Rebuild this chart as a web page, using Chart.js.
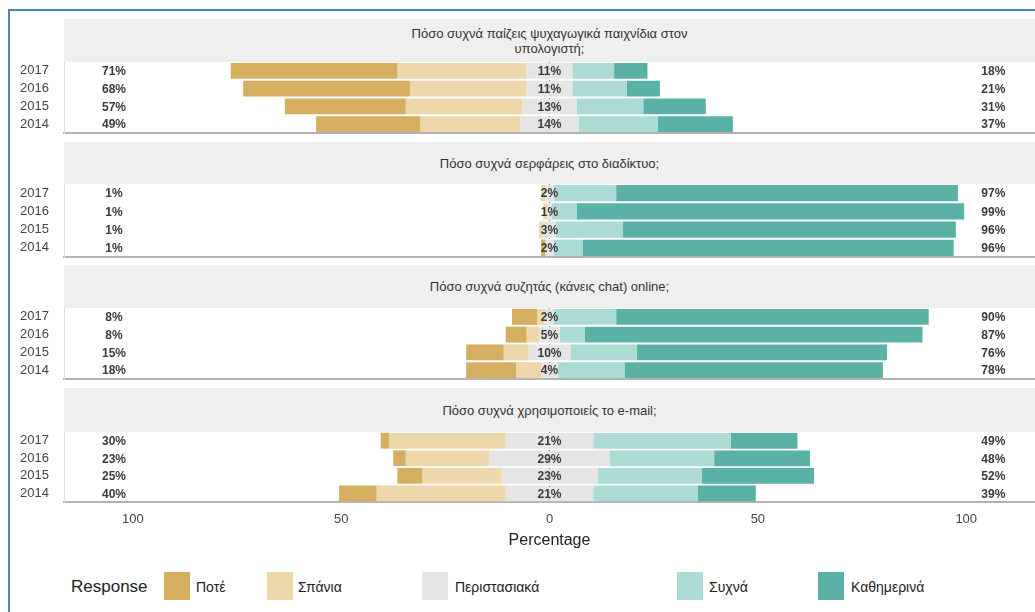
<!DOCTYPE html>
<html>
<head>
<meta charset="utf-8">
<script src="https://cdn.jsdelivr.net/npm/chart.js@4.4.1/dist/chart.umd.min.js"></script>
<style>
body{margin:0;background:#fff;font-family:"Liberation Sans",Arial,sans-serif;width:1035px;height:612px;overflow:hidden;position:relative}
#frame{position:absolute;left:8px;top:9px;width:1100px;height:700px;border-left:2px solid #4f81bd;border-top:2px solid #4f81bd}
.strip{position:absolute;left:64px;width:971px;background:#efefef;color:#333;font-size:13px;line-height:15px;display:flex;align-items:center;justify-content:center;text-align:center}
.panel{position:absolute;left:0;width:1035px}
#legend{position:absolute;top:572px;left:0;width:1035px;height:30px;font-size:14px;color:#222}
#legend span{position:absolute;top:7px}
#legend i{position:absolute;top:0;width:26px;height:28px}
</style>
</head>
<body>
<div id="frame"></div>
<div id="root"></div>
<div id="legend"><span style="left:71px;top:5px;font-size:17px">Response</span></div>
<script>
// rows: Ποτέ, Σπάνια, Περιστασιακά, Συχνά, Καθημερινά ; columns: years
const years = ['2017', '2016', '2015', '2014'];
const responses = ['Ποτέ', 'Σπάνια', 'Περιστασιακά', 'Συχνά', 'Καθημερινά'];
const colors = ['#d6ae5f', '#ecd8ab', '#e5e5e5', '#acdad4', '#5ab2a7'];

const questions = [
  'Πόσο συχνά παίζεις ψυχαγωγικά παιχνίδια στον<br>υπολογιστή;',
  'Πόσο συχνά σερφάρεις στο διαδίκτυο;',
  'Πόσο συχνά συζητάς (κάνεις chat) online;',
  'Πόσο συχνά χρησιμοποιείς το e-mail;'
];

const games = [
  [40, 40, 29, 25],
  [31, 28, 28, 24],
  [11, 11, 13, 14],
  [10, 13, 16, 19],
  [8, 8, 15, 18]
];
const surf = [
  [0, 0, 0, 1],
  [1, 1, 1, 0],
  [2, 1, 3, 2],
  [15, 6, 16, 7],
  [82, 93, 80, 89]
];
const chat = [
  [6, 5, 9, 12],
  [2, 3, 6, 6],
  [2, 5, 10, 4],
  [15, 6, 16, 16],
  [75, 81, 60, 62]
];
const email = [
  [2, 3, 6, 9],
  [28, 20, 19, 31],
  [21, 29, 23, 21],
  [33, 25, 25, 25],
  [16, 23, 27, 14]
];
const allData = [games, surf, chat, email];

// page layout (px)
const strips = [[19, 43], [142, 42], [265, 43], [388, 44]];
const panels = [[62, 71], [184, 73], [308, 71], [432, 70]];

const xMin = -116.5, xMax = 116.5;

function buildDatasets(q) {
  const ds = responses.map((r, k) => ({
    label: r, data: [], backgroundColor: colors[k],
    grouped: false, barPercentage: 0.9, categoryPercentage: 1, borderWidth: 0
  }));
  years.forEach((yr, i) => {
    const h = q[2][i] / 2;
    ds[2].data.push([-h, h]);
    ds[1].data.push([-h - q[1][i], -h]);
    ds[0].data.push([-h - q[1][i] - q[0][i], -h - q[1][i]]);
    ds[3].data.push([h, h + q[3][i]]);
    ds[4].data.push([h + q[3][i], h + q[3][i] + q[4][i]]);
  });
  return ds;
}

const pctLabels = {
  id: 'pctLabels',
  afterDatasetsDraw(chart, args, opts) {
    const {ctx, chartArea, scales: {x, y}} = chart;
    const q = opts.rows;
    ctx.save();
    const x0 = x.getPixelForValue(0);
    ctx.strokeStyle = '#888';
    ctx.lineWidth = 1;
    ctx.setLineDash([1, 5]);
    ctx.beginPath();
    ctx.moveTo(x0, chartArea.top);
    ctx.lineTo(x0, chartArea.bottom);
    ctx.stroke();
    ctx.setLineDash([]);
    ctx.font = 'bold 12px "Liberation Sans", Arial';
    ctx.fillStyle = '#3a3a3a';
    ctx.textAlign = 'center';
    ctx.textBaseline = 'middle';
    years.forEach((yr, i) => {
      const yy = y.getPixelForValue(i) + 1;
      ctx.fillText((q[0][i] + q[1][i]) + '%', x.getPixelForValue(-104.5), yy);
      ctx.fillText(q[2][i] + '%', x0, yy);
      ctx.fillText((q[3][i] + q[4][i]) + '%', x.getPixelForValue(106.5), yy);
    });
    ctx.restore();
  }
};

const root = document.getElementById('root');
allData.forEach((q, p) => {
  const last = p === allData.length - 1;
  const st = document.createElement('div');
  st.className = 'strip';
  st.style.top = strips[p][0] + 'px';
  st.style.height = strips[p][1] + 'px';
  st.innerHTML = questions[p];
  root.appendChild(st);

  const axisH = last ? 48 : 2;
  const box = document.createElement('div');
  box.className = 'panel';
  box.style.top = panels[p][0] + 'px';
  box.style.height = (panels[p][1] + axisH) + 'px';
  const cv = document.createElement('canvas');
  box.appendChild(cv);
  root.appendChild(box);

  new Chart(cv, {
    type: 'bar',
    data: {labels: years, datasets: buildDatasets(q)},
    options: {
      indexAxis: 'y',
      responsive: true,
      maintainAspectRatio: false,
      animation: false,
      layout: {padding: 0},
      plugins: {
        legend: {display: false},
        tooltip: {enabled: false},
        pctLabels: {rows: q}
      },
      scales: {
        x: {
          min: xMin, max: xMax,
          grid: {display: false},
          border: {display: true, color: '#b3b3b3', width: 2},
          ticks: {
            display: last, color: '#444', padding: 2,
            font: {size: 13, family: '"Liberation Sans", Arial'},
            callback: v => Math.abs(v)
          },
          afterBuildTicks: s => { s.ticks = [-100, -50, 0, 50, 100].map(v => ({value: v})); },
          title: {
            display: last, text: 'Percentage', color: '#222',
            font: {size: 16, family: '"Liberation Sans", Arial'}, padding: 0
          },
          afterFit: s => { s.height = axisH; s.paddingLeft = 0; s.paddingRight = 0; }
        },
        y: {
          grid: {display: false},
          border: {display: true, color: '#dcdcdc', width: 1},
          ticks: {autoSkip: false, color: '#444', padding: 7, font: {size: 13, family: '"Liberation Sans", Arial'}},
          afterFit: s => { s.width = 64; s.paddingTop = 0; s.paddingBottom = 0; }
        }
      }
    },
    plugins: [pctLabels]
  });
});

// legend
const legendX = [[164, 196], [267, 298], [422, 455], [677, 709], [818, 851]];
const lg = document.getElementById('legend');
responses.forEach((r, k) => {
  const b = document.createElement('i');
  b.style.left = legendX[k][0] + 'px';
  b.style.background = colors[k];
  lg.appendChild(b);
  const t = document.createElement('span');
  t.style.left = legendX[k][1] + 'px';
  t.textContent = r;
  lg.appendChild(t);
});
</script>
</body>
</html>
